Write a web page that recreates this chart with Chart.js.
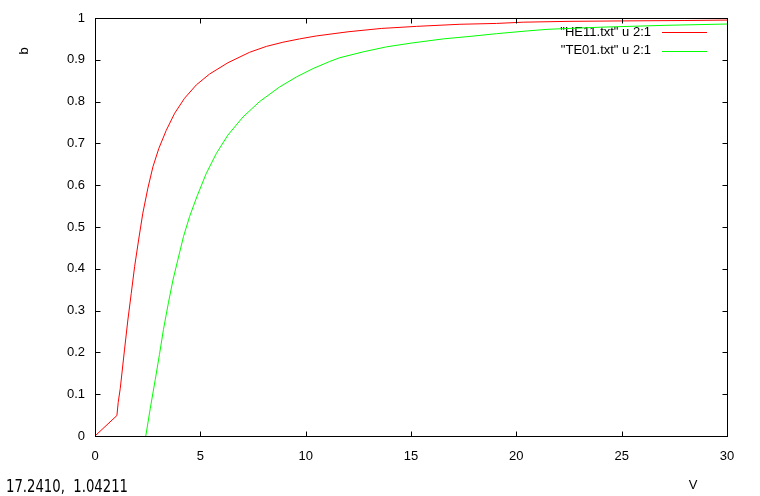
<!DOCTYPE html>
<html>
<head>
<meta charset="utf-8">
<script src="https://cdn.jsdelivr.net/npm/chart.js@4.4.1/dist/chart.umd.min.js"></script>
<style>
    body { margin: 0; background: #fff; }
    canvas { display: block; }
</style>
</head>
<body>
<canvas id="bvChart" width="760" height="496"></canvas>
<script>
// Data (V on x, b on y)
const he11V = [0, 1.04, 1.10, 1.20, 1.40, 1.56, 1.72, 1.88, 2.07, 2.27, 2.51, 2.75, 3.03, 3.38, 3.78, 4.25, 4.81, 5.44, 6.31, 7.34, 8.13, 8.92, 9.71, 10.5, 12.01, 13.59, 15.26, 17.32, 19.06, 20.33, 22.5, 25, 28, 30];
const he11B = [0, 0.049, 0.080, 0.114, 0.206, 0.2775, 0.341, 0.405, 0.469, 0.533, 0.593, 0.644, 0.688, 0.731, 0.772, 0.808, 0.840, 0.866, 0.893, 0.918, 0.932, 0.942, 0.950, 0.957, 0.967, 0.975, 0.980, 0.985, 0.987, 0.990, 0.992, 0.993, 0.994, 0.995];

const te01V = [2.41, 2.62, 2.86, 3.06, 3.25, 3.49, 3.70, 3.93, 4.20, 4.49, 4.84, 5.28, 5.76, 6.31, 7.02, 7.81, 8.76, 9.56, 10.35, 11.14, 11.62, 12.73, 13.84, 15.01, 16.53, 17.8, 19.06, 20.5, 21.5, 24, 27.1, 30];
const te01B = [0, 0.065, 0.135, 0.195, 0.255, 0.320, 0.373, 0.421, 0.477, 0.525, 0.573, 0.628, 0.676, 0.720, 0.763, 0.800, 0.835, 0.859, 0.879, 0.896, 0.905, 0.919, 0.931, 0.940, 0.950, 0.956, 0.9625, 0.969, 0.973, 0.978, 0.9825, 0.9856];

const seriesLabels = ['"HE11.txt" u 2:1', '"TE01.txt" u 2:1'];
const xTicks = [0, 5, 10, 15, 20, 25, 30];
const yTicks = [0, 0.1, 0.2, 0.3, 0.4, 0.5, 0.6, 0.7, 0.8, 0.9, 1];
const xTitle = 'V';
const yTitle = 'b';
const statusText = '17.2410,  1.04211';

const toPoints = (xs, ys) => xs.map((x, i) => ({ x: x, y: ys[i] }));

// gnuplot-style frame: box, inward ticks on all sides, key, labels
const gnuplotFrame = {
    id: 'gnuplotFrame',
    beforeDatasetsDraw(chart) {
        const ctx = chart.ctx;
        ctx.save();
        ctx.font = '13px "Liberation Sans", Arial, sans-serif';
        ctx.textAlign = 'right';
        ctx.textBaseline = 'middle';
        chart.data.datasets.forEach((ds, i) => {
            const y = 32 + i * 18.5;
            ctx.fillStyle = '#000';
            ctx.fillText(ds.label, 651, y);
            ctx.strokeStyle = ds.borderColor;
            ctx.lineWidth = 1;
            ctx.beginPath();
            ctx.moveTo(662, Math.round(y) + 0.5);
            ctx.lineTo(707, Math.round(y) + 0.5);
            ctx.stroke();
        });
        ctx.restore();
    },
    afterDraw(chart) {
        const ctx = chart.ctx;
        const a = chart.chartArea;
        const xs = chart.scales.x;
        const ys = chart.scales.y;
        const L = Math.round(a.left) + 0.5, R = Math.round(a.right) + 0.5;
        const T = Math.round(a.top) + 0.5, B = Math.round(a.bottom) + 0.5;
        const tick = 5;

        ctx.save();
        ctx.strokeStyle = '#000';
        ctx.lineWidth = 1;
        ctx.beginPath();
        xs.ticks.forEach(t => {
            const px = Math.round(xs.getPixelForValue(t.value)) + 0.5;
            ctx.moveTo(px, B); ctx.lineTo(px, B - tick);
            ctx.moveTo(px, T); ctx.lineTo(px, T + tick);
        });
        ys.ticks.forEach(t => {
            const py = Math.round(ys.getPixelForValue(t.value)) + 0.5;
            ctx.moveTo(L, py); ctx.lineTo(L + tick, py);
            ctx.moveTo(R, py); ctx.lineTo(R - tick, py);
        });
        ctx.stroke();
        ctx.strokeRect(L, T, R - L, B - T);

        ctx.fillStyle = '#000';
        ctx.font = '13px "Liberation Sans", Arial, sans-serif';
        ctx.textAlign = 'center';
        ctx.textBaseline = 'middle';
        ctx.fillText(xTitle, 693, 485);

        ctx.save();
        ctx.translate(24, 51);
        ctx.rotate(-Math.PI / 2);
        ctx.fillText(yTitle, 0, 0);
        ctx.restore();

        // status line in the corner, squeezed to the narrow GUI font width
        ctx.font = '17px "Liberation Sans Narrow", "DejaVu Sans Condensed", sans-serif';
        ctx.textAlign = 'left';
        ctx.textBaseline = 'alphabetic';
        ctx.fillText(statusText, 6, 492, 122);
        ctx.restore();
    }
};

Chart.defaults.font.family = '"Liberation Sans", Arial, sans-serif';
Chart.defaults.font.size = 13;
Chart.defaults.color = '#000';

new Chart(document.getElementById('bvChart'), {
    type: 'scatter',
    data: {
        datasets: [
            {
                label: seriesLabels[0],
                data: toPoints(he11V, he11B),
                borderColor: '#ff0000',
                backgroundColor: '#ff0000',
                showLine: true,
                borderWidth: 1,
                pointRadius: 0,
                tension: 0
            },
            {
                label: seriesLabels[1],
                data: toPoints(te01V, te01B),
                borderColor: '#00ff00',
                backgroundColor: '#00ff00',
                showLine: true,
                borderWidth: 1,
                pointRadius: 0,
                tension: 0
            }
        ]
    },
    options: {
        responsive: false,
        animation: false,
        layout: { padding: { left: 0, top: 18, right: 33, bottom: 0 } },
        plugins: {
            legend: { display: false },
            tooltip: { enabled: false }
        },
        scales: {
            x: {
                type: 'linear',
                min: 0,
                max: 30,
                afterBuildTicks: s => { s.ticks = xTicks.map(v => ({ value: v })); },
                afterFit: s => { s.height = 60; },
                grid: { display: false, drawTicks: false },
                border: { display: false },
                ticks: { padding: 13, maxRotation: 0, callback: v => String(v) }
            },
            y: {
                type: 'linear',
                min: 0,
                max: 1,
                afterBuildTicks: s => { s.ticks = yTicks.map(v => ({ value: v })); },
                afterFit: s => { s.width = 95; },
                grid: { display: false, drawTicks: false },
                border: { display: false },
                ticks: { padding: 10, callback: v => String(v) }
            }
        }
    },
    plugins: [gnuplotFrame]
});
</script>
</body>
</html>
